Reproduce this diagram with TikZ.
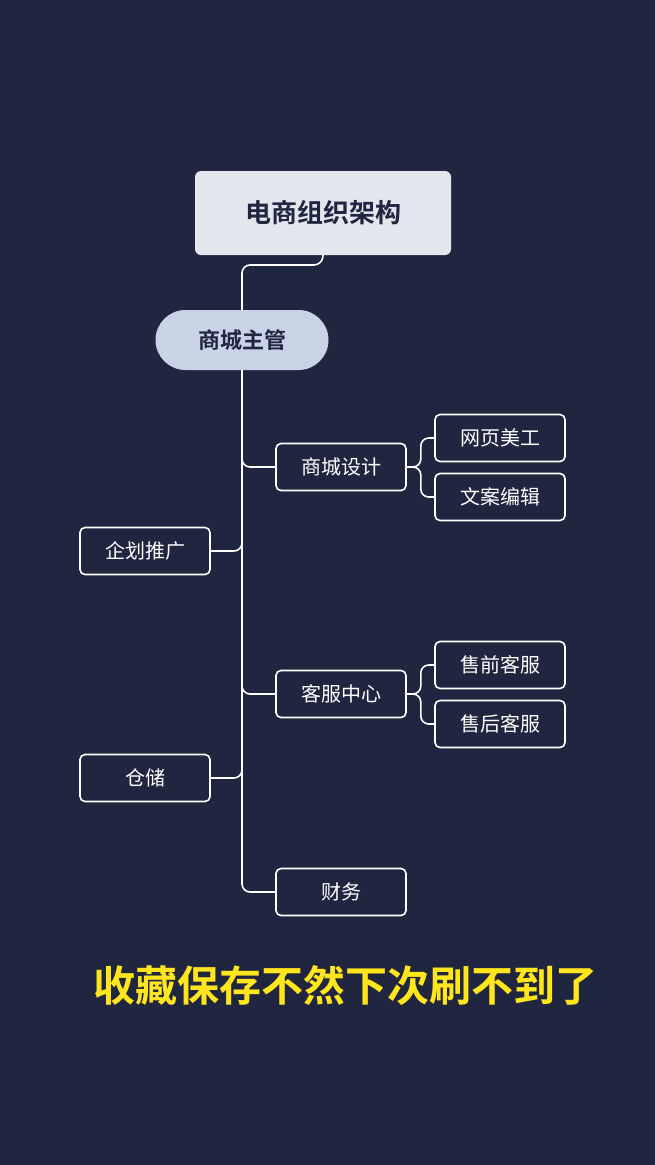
\documentclass[tikz,border=0pt]{standalone}
\usepackage{fontspec}
\setmainfont{Noto Sans CJK SC}
\newfontfamily\cjkbold{Noto Sans CJK SC Bold}
\definecolor{bgNavy}{HTML}{20263F}
\definecolor{rootGray}{HTML}{E3E6ED}
\definecolor{pillBlue}{HTML}{C9D3E6}
\definecolor{tipYellow}{HTML}{FFE61C}
\tikzset{
    leafbox/.style={draw=white, line width=1.6pt, rounded corners=5pt, minimum width=130pt, minimum height=47pt, text=white, font=\fontsize{20}{24}\selectfont},
    link/.style={draw=white, line width=1.6pt, rounded corners=8pt}
}
\begin{document}
\begin{tikzpicture}[x=1pt, y=-1pt]
    % background
    \fill[bgNavy] (0,0) rectangle (655,1165);
    \useasboundingbox (0,0) rectangle (655,1165);

    % root and head
    \node[fill=rootGray, rounded corners=6pt, minimum width=256pt, minimum height=84pt, text=bgNavy, font=\cjkbold\fontsize{26}{30}\selectfont] (root) at (323,213) {电商组织架构};
    \node[fill=pillBlue, rounded corners=30pt, minimum width=173pt, minimum height=60pt, text=bgNavy, font=\cjkbold\fontsize{22}{26}\selectfont] (head) at (242,340) {商城主管};
    \draw[link] (root.south) -- (322,265) -- (242,265) -- (head.north);

    % second level
    \node[leafbox] (design) at (341,467) {商城设计};
    \node[leafbox] (plan) at (145,551) {企划推广};
    \node[leafbox] (service) at (341,694) {客服中心};
    \node[leafbox] (store) at (145,778) {仓储};
    \node[leafbox] (finance) at (341,892) {财务};

    \coordinate (trunkEnd) at (242,892);
    \draw[link] (head.south) -- (242,870) -- (trunkEnd) -- (finance.west);
    \foreach \n in {design, service}
        \draw[link] (head.south) |- (\n.west);
    \foreach \n in {plan, store}
        \draw[link] (head.south) |- (\n.east);

    % third level
    \node[leafbox] (web) at (500,438) {网页美工};
    \node[leafbox] (copy) at (500,497) {文案编辑};
    \node[leafbox] (pre) at (500,665) {售前客服};
    \node[leafbox] (after) at (500,724) {售后客服};

    \foreach \p/\c in {design/web, design/copy, service/pre, service/after}
        \draw[link] (\p.east) -- ++(14,0) |- (\c.west);

    % tip
    \node[text=tipYellow, font=\cjkbold\fontsize{42}{48}\selectfont] (tip) at (345,986) {收藏保存不然下次刷不到了};
\end{tikzpicture}
\end{document}
